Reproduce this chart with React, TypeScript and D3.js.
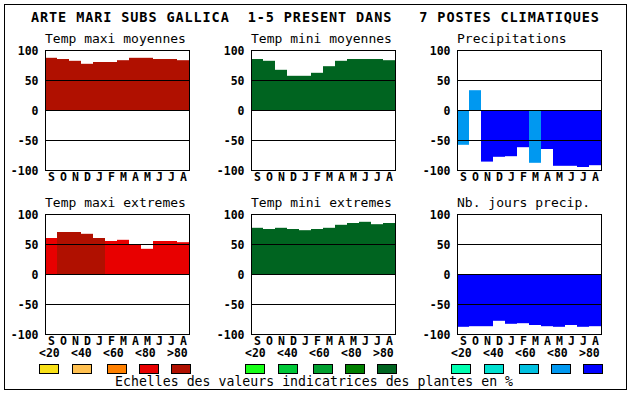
import React from 'react';
import * as d3 from 'd3';

const title = 'ARTE MARI SUBS GALLICA  1-5 PRESENT DANS   7 POSTES CLIMATIQUES';
const months = ['S', 'O', 'N', 'D', 'J', 'F', 'M', 'A', 'M', 'J', 'J', 'A'];
const yTicks = [100, 50, 0, -50, -100];
const legendLabels = ['<20', '<40', '<60', '<80', '>80'];
const footer = 'Echelles des valeurs indicatrices des plantes en %';

// colour scales (class 0..4)
const warmScale = ['#f8e018', '#ffc050', '#ff8000', '#e80000', '#b01000'];
const greenScale = ['#18ff18', '#00c838', '#00a030', '#008000', '#006420'];
const blueScale = ['#00ffb0', '#00e0d0', '#00c0e0', '#0098f0', '#0000ff'];

// values per month and the colour class of each bar
const tmaxMoy = [87, 85, 82, 77, 80, 80, 83, 87, 87, 85, 85, 83];
const tmaxMoyClass = [4, 4, 4, 4, 4, 4, 4, 4, 4, 4, 4, 4];
const tminMoy = [85, 82, 67, 57, 57, 62, 73, 82, 85, 85, 85, 83];
const tminMoyClass = [4, 4, 4, 4, 4, 4, 4, 4, 4, 4, 4, 4];
const precip = [-58, 33, -86, -78, -77, -62, -88, -65, -93, -93, -95, -92];
const precipClass = [3, 3, 4, 4, 4, 4, 3, 4, 4, 4, 4, 4];
const tmaxExt = [60, 70, 70, 67, 60, 55, 57, 50, 42, 55, 55, 53];
const tmaxExtClass = [3, 4, 4, 4, 4, 3, 3, 3, 3, 3, 3, 3];
const tminExt = [77, 75, 77, 75, 73, 75, 77, 82, 85, 87, 83, 85];
const tminExtClass = [4, 4, 4, 4, 4, 4, 4, 4, 4, 4, 4, 4];
const nbJours = [-88, -87, -87, -78, -83, -82, -85, -87, -88, -85, -88, -87];
const nbJoursClass = [4, 4, 4, 4, 4, 4, 4, 4, 4, 4, 4, 4];

const panels = [
  { label: 'Temp maxi moyennes', values: tmaxMoy, classes: tmaxMoyClass, scale: warmScale, col: 0, row: 0 },
  { label: 'Temp mini moyennes', values: tminMoy, classes: tminMoyClass, scale: greenScale, col: 1, row: 0 },
  { label: 'Precipitations', values: precip, classes: precipClass, scale: blueScale, col: 2, row: 0 },
  { label: 'Temp maxi extremes', values: tmaxExt, classes: tmaxExtClass, scale: warmScale, col: 0, row: 1 },
  { label: 'Temp mini extremes', values: tminExt, classes: tminExtClass, scale: greenScale, col: 1, row: 1 },
  { label: 'Nb. jours precip.', values: nbJours, classes: nbJoursClass, scale: blueScale, col: 2, row: 1 },
];
const legendScales = [warmScale, greenScale, blueScale];

const mono = '"DejaVu Sans Mono", "Liberation Mono", monospace';
const colLeft = [45, 251, 457];
const rowTop = [50, 214];
const plotW = 144;
const plotH = 120;
const swatchOffsets = [-6, 27, 62, 94, 126];

const Panel: React.FC<{ p: typeof panels[number] }> = ({ p }) => {
  const left = colLeft[p.col];
  const top = rowTop[p.row];
  const x = d3.scaleBand<number>().domain(d3.range(12)).range([left, left + plotW]);
  const y = d3.scaleLinear().domain([-100, 100]).range([top + plotH, top]);
  return (
    <g>
      <text x={left} y={top - 7.5} fontFamily={mono} fontSize={13} fill="#000">
        {p.label}
      </text>
      {p.values.map((v, i) => (
        <rect
          key={i}
          x={x(i)}
          width={x.bandwidth()}
          y={Math.min(y(0), y(v))}
          height={Math.abs(y(v) - y(0))}
          fill={p.scale[p.classes[i]]}
        />
      ))}
      {[50, 0, -50].map(t => (
        <line key={t} x1={left} x2={left + plotW} y1={y(t) + 0.5} y2={y(t) + 0.5}
          stroke="#000" strokeWidth={1} />
      ))}
      <rect x={left + 0.5} y={top + 0.5} width={plotW} height={plotH}
        fill="none" stroke="#000" strokeWidth={1} />
      {yTicks.map(t => (
        <text key={t} x={left - 6.5} y={y(t) + 0.5} textAnchor="end" dominantBaseline="central"
          fontFamily={mono} fontWeight="bold" fontSize={11.5} fill="#000">
          {t}
        </text>
      ))}
      {months.map((m, i) => (
        <text key={i} x={(x(i) as number) + x.bandwidth() / 2 + 0.5} y={top + plotH + 10.5}
          textAnchor="middle" fontFamily={mono} fontWeight="bold" fontSize={11.5} fill="#000">
          {m}
        </text>
      ))}
    </g>
  );
};

const App: React.FC = () => {
  return (
    <svg width={630} height={394} style={{ position: 'absolute', left: 0, top: 0, background: '#fff' }}>
      <rect x={0} y={0} width={630} height={394} fill="#fff" />
      <rect x={4.5} y={4.5} width={622} height={385} fill="none" stroke="#000" strokeWidth={1} />
      <text x={31} y={22} fontFamily={mono} fontWeight="bold" fontSize={13.5}
        textLength={568} lengthAdjust="spacing" fill="#000" style={{ whiteSpace: 'pre' }}>
        {title}
      </text>
      {panels.map((p, i) => <Panel key={i} p={p} />)}
      {legendScales.map((sc, k) => (
        <g key={k}>
          {legendLabels.map((l, i) => (
            <text key={l} x={colLeft[k] - 6 + 32 * i} y={357} fontFamily={mono} fontWeight="bold"
              fontSize={11.5} fill="#000">
              {l}
            </text>
          ))}
          {sc.map((c, i) => (
            <rect key={i} x={colLeft[k] + swatchOffsets[i] + 0.5} y={364.5} width={19} height={9}
              fill={c} stroke="#000" strokeWidth={1} />
          ))}
        </g>
      ))}
      <text x={314} y={386} textAnchor="middle" fontFamily={mono} fontSize={13.2}
        textLength={398} lengthAdjust="spacing" fill="#000">
        {footer}
      </text>
    </svg>
  );
};

export default App;
